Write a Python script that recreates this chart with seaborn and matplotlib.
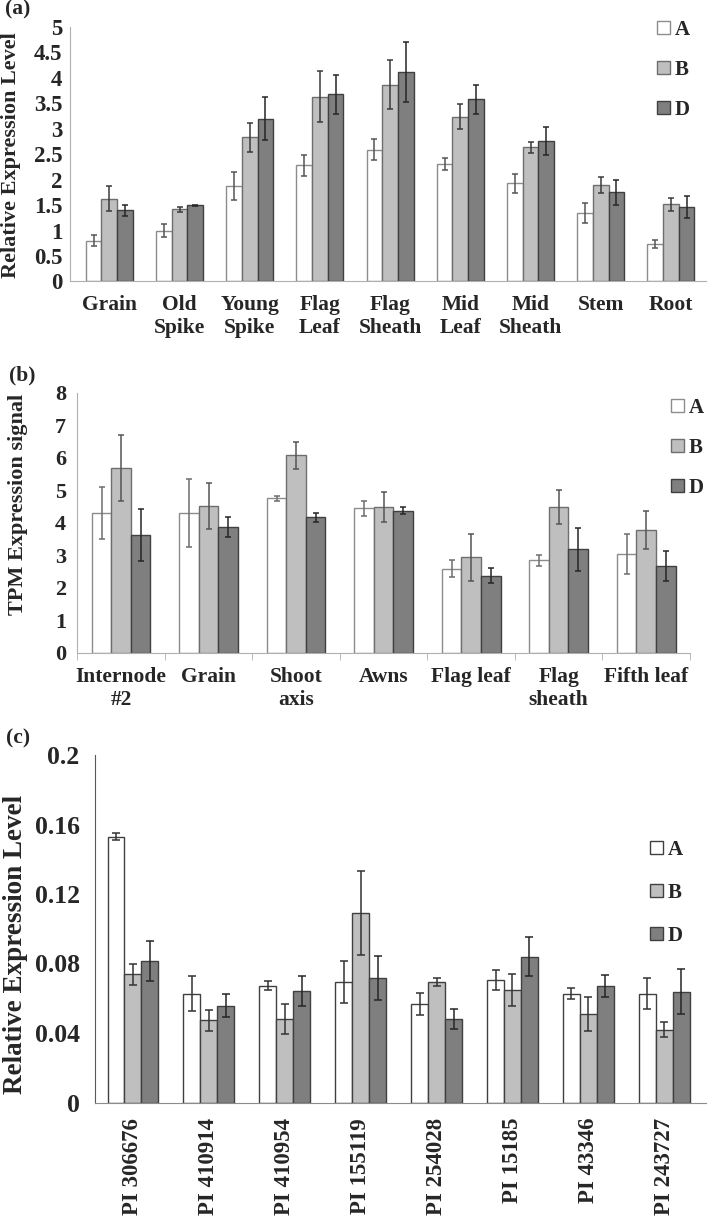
import numpy as np
import pandas as pd
import seaborn as sns
import matplotlib
matplotlib.use('Agg')
import matplotlib.pyplot as plt
from matplotlib.patches import Patch

# ---- data ----
genomes = ['A', 'B', 'D']

tissues_a = ['Grain', 'Old\nSpike', 'Young\nSpike', 'Flag\nLeaf', 'Flag\nSheath',
             'Mid\nLeaf', 'Mid\nSheath', 'Stem', 'Root']
a_A = [0.80, 1.00, 1.88, 2.28, 2.59, 2.31, 1.93, 1.35, 0.74]
a_A_err = [0.11, 0.12, 0.28, 0.21, 0.20, 0.12, 0.19, 0.20, 0.085]
a_B = [1.63, 1.42, 2.83, 3.63, 3.87, 3.24, 2.64, 1.90, 1.52]
a_B_err = [0.25, 0.045, 0.29, 0.50, 0.48, 0.25, 0.11, 0.16, 0.13]
a_D = [1.40, 1.50, 3.20, 3.68, 4.12, 3.58, 2.76, 1.75, 1.46]
a_D_err = [0.11, 0.01, 0.42, 0.38, 0.59, 0.29, 0.28, 0.24, 0.22]

tissues_b = ['Internode\n#2', 'Grain', 'Shoot\naxis', 'Awns', 'Flag leaf',
             'Flag\nsheath', 'Fifth leaf']
b_A = [4.30, 4.30, 4.75, 4.44, 2.59, 2.84, 3.03]
b_A_err = [0.79, 1.04, 0.07, 0.22, 0.26, 0.17, 0.62]
b_B = [5.69, 4.52, 6.07, 4.48, 2.93, 4.48, 3.78]
b_B_err = [1.02, 0.70, 0.42, 0.46, 0.72, 0.52, 0.58]
b_D = [3.62, 3.86, 4.16, 4.37, 2.37, 3.18, 2.67]
b_D_err = [0.79, 0.31, 0.15, 0.10, 0.24, 0.66, 0.45]

lines_c = ['PI 306676', 'PI 410914', 'PI 410954', 'PI 155119', 'PI 254028',
           'PI 15185', 'PI 43346', 'PI 243727']
c_A = [0.153, 0.0627, 0.0672, 0.0694, 0.0566, 0.0705, 0.0627, 0.0627]
c_A_err = [0.0022, 0.0099, 0.0026, 0.0123, 0.0063, 0.0059, 0.0031, 0.0088]
c_B = [0.0737, 0.0472, 0.048, 0.109, 0.0693, 0.0648, 0.0509, 0.0419]
c_B_err = [0.006, 0.006, 0.0086, 0.024, 0.0022, 0.009, 0.010, 0.0042]
c_D = [0.0815, 0.0558, 0.0642, 0.0716, 0.048, 0.084, 0.067, 0.0638]
c_D_err = [0.0115, 0.0068, 0.0086, 0.0127, 0.0057, 0.011, 0.0065, 0.0128]

fills = ['#ffffff', '#bfbfbf', '#7f7f7f']

W, H = 708, 1223
sns.set_style('white')
plt.rcParams['font.family'] = ['Liberation Serif', 'DejaVu Serif']
plt.rcParams['font.weight'] = 'bold'

fig = plt.figure(figsize=(W / 100, H / 100), dpi=100)


def px_box(l, t, r, b):
    return [l / W, 1 - b / H, (r - l) / W, (b - t) / H]


def draw_panel(ax, cats, A, B, D, errs, edges, err_cols, capsize):
    df = pd.DataFrame({
        'cat': cats * 3,
        'genome': [g for g in genomes for _ in cats],
        'value': A + B + D,
    })
    sns.barplot(data=df, x='cat', y='value', hue='genome', order=cats,
                hue_order=genomes, palette=fills, saturation=1, width=0.67,
                errorbar=None, legend=False, linewidth=1, ax=ax)
    # bars sorted by x give cat0-A, cat0-B, cat0-D, cat1-A ...
    bars = sorted(ax.patches, key=lambda p: p.get_x())
    for k, p in enumerate(bars):
        j = k % 3
        i = k // 3
        p.set_edgecolor(edges[j])
        ax.errorbar(p.get_x() + p.get_width() / 2, p.get_height(),
                    yerr=errs[j][i], color=err_cols[j], elinewidth=1.1,
                    capsize=capsize, capthick=1.1, fmt='none', zorder=3)
    ax.set_xlabel('')
    sns.despine(ax=ax)


def add_legend(ax, x, yc, fs, spacing, edges):
    handles = [Patch(facecolor=fills[j], edgecolor=edges[j], linewidth=1)
               for j in range(3)]
    ax.legend(handles, genomes, loc='center left',
              bbox_to_anchor=(x / W, 1 - yc / H), bbox_transform=fig.transFigure,
              frameon=False, handlelength=0.6, handleheight=0.6,
              handletextpad=0.25, labelspacing=spacing, borderpad=0,
              borderaxespad=0, prop={'weight': 'bold', 'size': fs})


# ---- (a) ----
ax1 = fig.add_axes(px_box(70, 27, 706, 281.5))
draw_panel(ax1, tissues_a, a_A, a_B, a_D, [a_A_err, a_B_err, a_D_err],
           edges=['#8c8c8c', '#6e6e6e', '#404040'],
           err_cols=['#555555', '#3a3a3a', '#262626'], capsize=2)
ax1.set_xlim(-0.56, 8.5)
ax1.set_ylim(0, 5)
ax1.set_yticks(np.arange(0, 5.01, 0.5))
ax1.set_yticklabels(['0', '0.5', '1', '1.5', '2', '2.5', '3', '3.5', '4', '4.5', '5'])
ax1.tick_params(axis='y', length=4, color='#b0b0b0', labelsize=16.5, pad=1.5)
ax1.tick_params(axis='x', length=0, labelsize=15.5, pad=10)
ax1.set_ylabel('Relative Expression Level', fontsize=16, fontweight='bold', va='center')
ax1.yaxis.set_label_coords((11 - 70) / 636, 0.497)
for s in ['left', 'bottom']:
    ax1.spines[s].set_color('#b0b0b0')
add_legend(ax1, 657, 70, 15, 0.95, ['#8c8c8c', '#6e6e6e', '#404040'])
fig.text(5 / W, 1 - 9 / H, '(a)', fontsize=15.5, fontweight='bold', va='center')

# ---- (b) ----
ax2 = fig.add_axes(px_box(77.3, 392.7, 690, 652.7))
draw_panel(ax2, tissues_b, b_A, b_B, b_D, [b_A_err, b_B_err, b_D_err],
           edges=['#8c8c8c', '#6e6e6e', '#404040'],
           err_cols=['#6e6e6e', '#555555', '#262626'], capsize=2)
ax2.set_xlim(-0.5, 6.5)
ax2.set_ylim(0, 8)
ax2.set_yticks(range(0, 9))
ax2.set_xticks(np.arange(-0.5, 7, 1), minor=True)
ax2.tick_params(axis='y', length=4, color='#b0b0b0', labelsize=16, pad=4)
ax2.tick_params(axis='x', which='major', length=0, labelsize=15.5, pad=10)
ax2.tick_params(axis='x', which='minor', length=5, color='#b0b0b0', bottom=True)
ax2.set_ylabel('TPM Expression signal', fontsize=16, fontweight='bold', va='center')
ax2.yaxis.set_label_coords((18 - 77.3) / 612.7, 0.57)
for s in ['left', 'bottom']:
    ax2.spines[s].set_color('#b0b0b0')
add_legend(ax2, 671, 448, 15, 0.95, ['#8c8c8c', '#6e6e6e', '#404040'])
fig.text(9 / W, 1 - 375 / H, '(b)', fontsize=15.5, fontweight='bold', va='center')

# ---- (c) ----
ax3 = fig.add_axes(px_box(95, 755, 706, 1102.5))
draw_panel(ax3, lines_c, c_A, c_B, c_D, [c_A_err, c_B_err, c_D_err],
           edges=['#404040', '#404040', '#404040'],
           err_cols=['#333333', '#333333', '#262626'], capsize=3)
ax3.set_xlim(-0.5, 7.55)
ax3.set_ylim(0, 0.2)
ax3.set_yticks([0, 0.04, 0.08, 0.12, 0.16, 0.2])
ax3.set_yticklabels(['0', '0.04', '0.08', '0.12', '0.16', '0.2'])
ax3.tick_params(axis='y', length=7, color='#595959', labelsize=18.5, pad=4)
ax3.tick_params(axis='x', length=0, labelsize=16.5, pad=11, rotation=90)
ax3.set_ylabel('Relative Expression Level', fontsize=19.5, fontweight='bold', va='center')
ax3.yaxis.set_label_coords((15 - 95) / 611, 0.456)
ax3.spines['left'].set_color('#595959')
ax3.spines['bottom'].set_color('#8c8c8c')
add_legend(ax3, 650, 893, 15, 1.1, ['#404040', '#404040', '#404040'])
fig.text(6 / W, 1 - 738 / H, '(c)', fontsize=15.5, fontweight='bold', va='center')

fig.savefig('out.png', dpi=100)
